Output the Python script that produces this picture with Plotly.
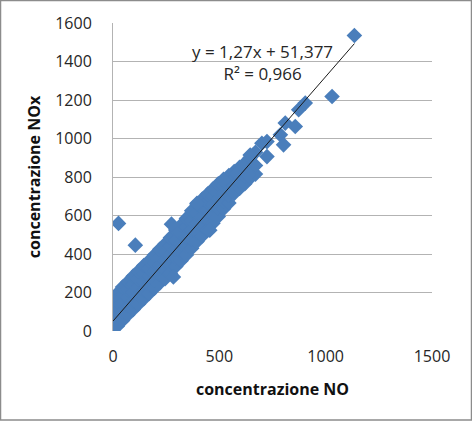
import plotly.graph_objects as go

# NO vs NOx concentrations (dense core of the cloud, column by column)
no_conc = [
    0, 0, 0, 0, 0,
    20, 20, 20, 20, 20,
    45, 45, 45, 45, 45,
    70, 70, 70, 70, 70,
    95, 95, 95, 95, 95,
    120, 120, 120, 120, 120,
    145, 145, 145, 145, 145,
    170, 170, 170, 170, 170,
    195, 195, 195, 195, 195,
    220, 220, 220, 220, 220,
    245, 245, 245, 245, 245,
    270, 270, 270, 270, 270,
    295, 295, 295, 295, 295,
    320, 320, 320, 320, 320,
    345, 345, 345, 345, 345,
    370, 370, 370, 370, 370,
    395, 395, 395, 395, 395,
    420, 420, 420, 420, 420,
    445, 445, 445, 445, 445,
    470, 470, 470, 470, 470,
    495, 495, 495, 495, 495,
    520, 520, 520, 520, 520,
    545, 545, 545, 545, 545,
    570, 570, 570, 570,
    595, 595, 595, 595,
    620, 620, 620, 620,
    645, 645, 645,
    670, 670, 670,
]
nox_conc = [
    5, 45, 90, 130, 170,
    25, 65, 105, 150, 195,
    55, 100, 145, 190, 228,
    85, 130, 175, 215, 255,
    112, 155, 200, 245, 285,
    140, 185, 230, 270, 312,
    168, 210, 255, 300, 340,
    195, 240, 285, 325, 365,
    222, 265, 310, 355, 395,
    250, 295, 340, 385, 425,
    272, 320, 365, 410, 452,
    300, 345, 395, 440, 485,
    335, 380, 425, 470, 525,
    365, 410, 455, 505, 550,
    395, 440, 490, 540, 585,
    430, 475, 525, 575, 625,
    465, 510, 560, 610, 660,
    495, 545, 595, 640, 685,
    525, 575, 625, 670, 712,
    560, 610, 655, 700, 738,
    595, 640, 685, 725, 765,
    635, 675, 715, 755, 788,
    665, 705, 745, 785, 808,
    715, 755, 795, 828,
    740, 780, 820, 850,
    765, 805, 845, 872,
    795, 835, 900,
    815, 860, 928,
]

# isolated readings and high-concentration episodes
no_extra = [26, 105, 275, 284, 455, 395, 519, 583, 614, 636, 645, 700, 724,
            724, 787, 802, 810, 857, 873, 904, 1030, 1135]
nox_extra = [559, 446, 555, 281, 524, 663, 784, 819, 854, 810, 914, 975, 906,
             984, 1019, 967, 1080, 1062, 1149, 1184, 1218, 1535]

# linear fit shown on the chart
slope = 1.27
intercept = 51.377
r_squared = 0.966

x_ticks = [0, 500, 1000, 1500]
y_ticks = [0, 200, 400, 600, 800, 1000, 1200, 1400, 1600]

x_all = no_conc + no_extra
y_all = nox_conc + nox_extra

W, H = 472, 421
ML, MR, MT, MB = 113, 40, 23, 90
pw, ph = W - ML - MR, H - MT - MB

fig = go.Figure()
fig.add_trace(go.Scatter(
    x=x_all, y=y_all, mode="markers",
    marker=dict(symbol="diamond", size=12, color="#4a7ebb",
                line=dict(width=0)),
    showlegend=False, hoverinfo="skip",
))

x_end = max(x_all)
fig.add_trace(go.Scatter(
    x=[0, x_end], y=[intercept, slope * x_end + intercept],
    mode="lines", line=dict(color="#1a1a1a", width=1),
    showlegend=False, hoverinfo="skip",
))

def fmt(v, d):
    return f"{v:.{d}f}".replace(".", ",")

FONT = "Open Sans, Liberation Sans, sans-serif"

fig.add_annotation(
    x=0.47, y=0.873, xref="paper", yref="paper", showarrow=False,
    xanchor="center", yanchor="middle",
    text=f"y = {fmt(slope, 2)}x + {fmt(intercept, 3)}<br>R² = {fmt(r_squared, 3)}",
    font=dict(family=FONT, size=17, color="#262626"),
    align="center",
)

# outer chart border
def px_x(p):
    return (p - ML) / pw

def px_y(p):
    return (H - MB - p) / ph

fig.add_shape(type="rect", xref="paper", yref="paper",
              x0=px_x(0.5), x1=px_x(W - 0.5), y0=px_y(H - 1), y1=px_y(0.5),
              line=dict(color="#8c8c8c", width=1.5), layer="below")

axis_font = dict(family=FONT, size=16, color="#262626")
title_font = dict(family=FONT, size=16, color="#111111")

fig.update_layout(
    width=W, height=H,
    margin=dict(l=ML, r=MR, t=MT, b=MB),
    paper_bgcolor="white", plot_bgcolor="white",
    xaxis=dict(
        range=[0, 1500], tickvals=x_ticks, ticktext=[str(v) for v in x_ticks],
        showgrid=False, zeroline=False, showline=False,
        tickfont=axis_font, ticks="", ticklen=0, ticklabelstandoff=14,
        title=dict(text="<b>concentrazione NO</b>", font=title_font, standoff=17),
    ),
    yaxis=dict(
        range=[0, 1600], tickvals=y_ticks, ticktext=[str(v) for v in y_ticks],
        showgrid=True, gridcolor="#b3b3b3", gridwidth=1,
        zeroline=False, showline=True, linecolor="#b3b3b3", linewidth=1,
        tickfont=axis_font, ticks="", ticklen=0, ticklabelstandoff=17,
        title=dict(text="<b>concentrazione NOx</b>", font=title_font, standoff=10),
    ),
)

fig.write_html("out.html")
